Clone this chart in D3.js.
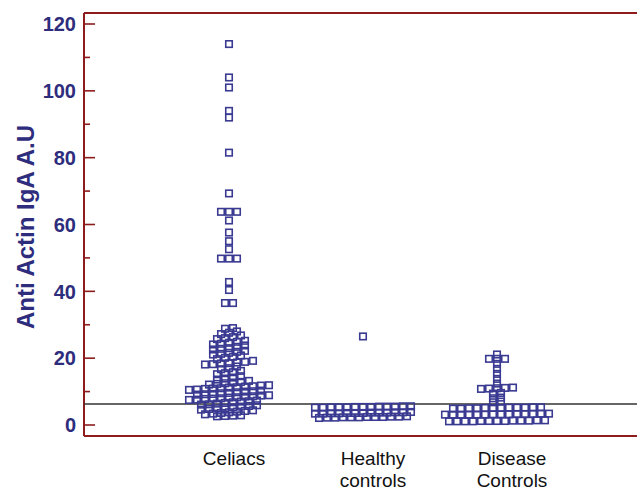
<!DOCTYPE html>
<html>
<head>
<meta charset="utf-8">
<script src="https://cdn.jsdelivr.net/npm/d3@7"></script>
<style>
  html, body { margin: 0; padding: 0; background: #fff; }
  svg { display: block; font-family: Arial, "Liberation Sans", sans-serif; }
</style>
</head>
<body>
<svg id="chart" width="637" height="493"></svg>
<script>
// groups shown along the x axis
const groups = ['Celiacs', 'Healthy controls', 'Disease Controls'];
const groupLabels = [['Celiacs'], ['Healthy', 'controls'], ['Disease', 'Controls']];

// anti actin IgA values (A.U)
const celiacs = [
  114, 104, 101, 94, 92, 81.5, 69.3, 63.8, 63.8, 63.8, 61.2, 57.6, 55, 52.6,
  49.8, 49.8, 49.8, 42.8, 40.4, 36.5, 36.5,
  29, 28.8, 28, 27.6, 27.2, 26.8, 26.3, 26, 25.7,
  25.2, 24.9, 24.6, 24.3, 24.1, 23.8, 23.4, 23, 22.8, 22.6,
  22.2, 21.9, 21.6, 21.3, 21.1, 20.8, 20.4, 20.1, 19.7,
  19.2, 18.9, 18.7, 18.5, 18.4, 18.2, 18.1, 17.5, 17, 16.7,
  16.2, 15.8, 15.5, 15.2, 14.6, 14.2, 13.9, 13.6,
  13.2, 12.9, 12.7, 12.5, 12.3, 12.1,
  11.9, 11.8, 11.6, 11.5, 11.3, 11.2, 11, 10.9, 10.8, 10.6, 10.5,
  10.3, 10.1, 10, 9.8, 9.6, 9.5, 9.3, 9.2, 9.1,
  8.9, 8.8, 8.6, 8.5, 8.3, 8.2, 8, 7.9, 7.8, 7.6, 7.5,
  7.3, 7.1, 7, 6.8, 6.6, 6.4, 6.2, 6.1,
  5.9, 5.7, 5.5, 5.3, 5.1, 5, 4.8, 4.6,
  4.4, 4.2, 4, 3.8, 3.6, 3.4, 3.2,
  2.9, 2.8, 2.7, 2.6
];
const healthy = [
  26.5,
  5.6, 5.6, 5.5, 5.5, 5.5, 5.4, 5.4, 5.4, 5.3, 5.3, 5.3, 5.2, 5.2,
  3.9, 3.8, 3.8, 3.7, 3.7, 3.7, 3.6, 3.6, 3.6, 3.5, 3.5, 3.4, 3.4,
  2.6, 2.5, 2.5, 2.4, 2.4, 2.4, 2.3, 2.3, 2.3, 2.2, 2.2, 2.1
];
const disease = [
  21.1, 19.8, 19.8, 19.8, 18.3, 16.8, 15.3, 13.8, 12.4,
  11.2, 11.1, 11, 10.9, 10.8, 9.6, 9.4, 8.2, 8, 7, 6.8,
  5.3, 5.3, 5.2, 5.2, 5.2, 5.1, 5.1, 5.1, 5, 5, 4.9, 4.9,
  3.4, 3.4, 3.3, 3.3, 3.3, 3.2, 3.2, 3.2, 3.1, 3.1, 3.1, 3.1, 3.1, 3.1,
  1.4, 1.4, 1.3, 1.3, 1.3, 1.2, 1.2, 1.2, 1.2, 1.1, 1.1, 1.1, 1.1
];
const seriesByGroup = [celiacs, healthy, disease];

const yTicks = [0, 20, 40, 60, 80, 100, 120];
const yMinorTicks = [10, 30, 50, 70, 90, 110];
const cutoff = 6.3;

const navy = '#2e2c7c';
const markColor = '#3a3a92';
const axisRed = '#8e1c1c';

const svg = d3.select('#chart');

const frame = { left: 84, right: 640, top: 13, bottom: 436 };

const y = d3.scaleLinear().domain([0, 120]).range([425, 24]);
const x = d3.scalePoint().domain(groups).range([229, 497]);
const xLabel = d3.scalePoint().domain(groups).range([234, 512]);

// dot plot layout: values grouped in bins, spread sideways inside each bin
const binSize = 1.5;
const step = 8;
function spread(values, cx) {
  const out = [];
  const bins = d3.group(values, v => Math.floor(v / binSize));
  for (const [, vs] of bins) {
    const sorted = vs.slice().sort(d3.ascending);
    const n = sorted.length;
    sorted.forEach((v, i) => out.push({ v, x: cx + (i - (n - 1) / 2) * step }));
  }
  return out;
}

// frame
svg.append('line')
  .attr('x1', frame.left).attr('x2', frame.right)
  .attr('y1', frame.top).attr('y2', frame.top)
  .attr('stroke', axisRed).attr('stroke-width', 2);
svg.append('line')
  .attr('x1', frame.left).attr('x2', frame.right)
  .attr('y1', frame.bottom).attr('y2', frame.bottom)
  .attr('stroke', axisRed).attr('stroke-width', 2);
svg.append('line')
  .attr('x1', frame.left).attr('x2', frame.left)
  .attr('y1', frame.top).attr('y2', frame.bottom)
  .attr('stroke', axisRed).attr('stroke-width', 2);

// y axis ticks (inside) and labels
const axis = svg.append('g');
axis.selectAll('.major').data(yTicks).enter().append('line')
  .attr('x1', frame.left).attr('x2', frame.left + 11)
  .attr('y1', d => y(d)).attr('y2', d => y(d))
  .attr('stroke', axisRed).attr('stroke-width', 1.6);
axis.selectAll('.minor').data(yMinorTicks).enter().append('line')
  .attr('x1', frame.left).attr('x2', frame.left + 6)
  .attr('y1', d => y(d)).attr('y2', d => y(d))
  .attr('stroke', axisRed).attr('stroke-width', 1.6);
axis.selectAll('text').data(yTicks).enter().append('text')
  .attr('x', 76).attr('y', d => y(d))
  .attr('dy', '0.36em')
  .attr('text-anchor', 'end')
  .attr('font-size', 20).attr('font-weight', 'bold')
  .attr('fill', navy)
  .text(d => d);

svg.append('text')
  .attr('transform', 'translate(34,227) rotate(-90)')
  .attr('text-anchor', 'middle')
  .attr('font-size', 24).attr('font-weight', 'bold')
  .attr('fill', navy)
  .text('Anti Actin IgA A.U');

// cutoff line
svg.append('line')
  .attr('x1', frame.left).attr('x2', frame.right)
  .attr('y1', y(cutoff)).attr('y2', y(cutoff))
  .attr('stroke', '#333').attr('stroke-width', 1.6);

// points
const size = 6.5;
groups.forEach((g, gi) => {
  const pts = spread(seriesByGroup[gi], x(g));
  svg.append('g').selectAll('rect').data(pts).enter().append('rect')
    .attr('x', d => d.x - size / 2)
    .attr('y', d => y(d.v) - size / 2)
    .attr('width', size).attr('height', size)
    .attr('fill', 'none')
    .attr('stroke', markColor).attr('stroke-width', 1.6);
});

// category labels
groups.forEach((g, gi) => {
  const t = svg.append('text')
    .attr('x', xLabel(g)).attr('y', 465)
    .attr('text-anchor', 'middle')
    .attr('font-size', 19)
    .attr('fill', '#111');
  groupLabels[gi].forEach((line, li) => {
    t.append('tspan').attr('x', xLabel(g)).attr('dy', li === 0 ? 0 : 22).text(line);
  });
});
</script>
</body>
</html>
